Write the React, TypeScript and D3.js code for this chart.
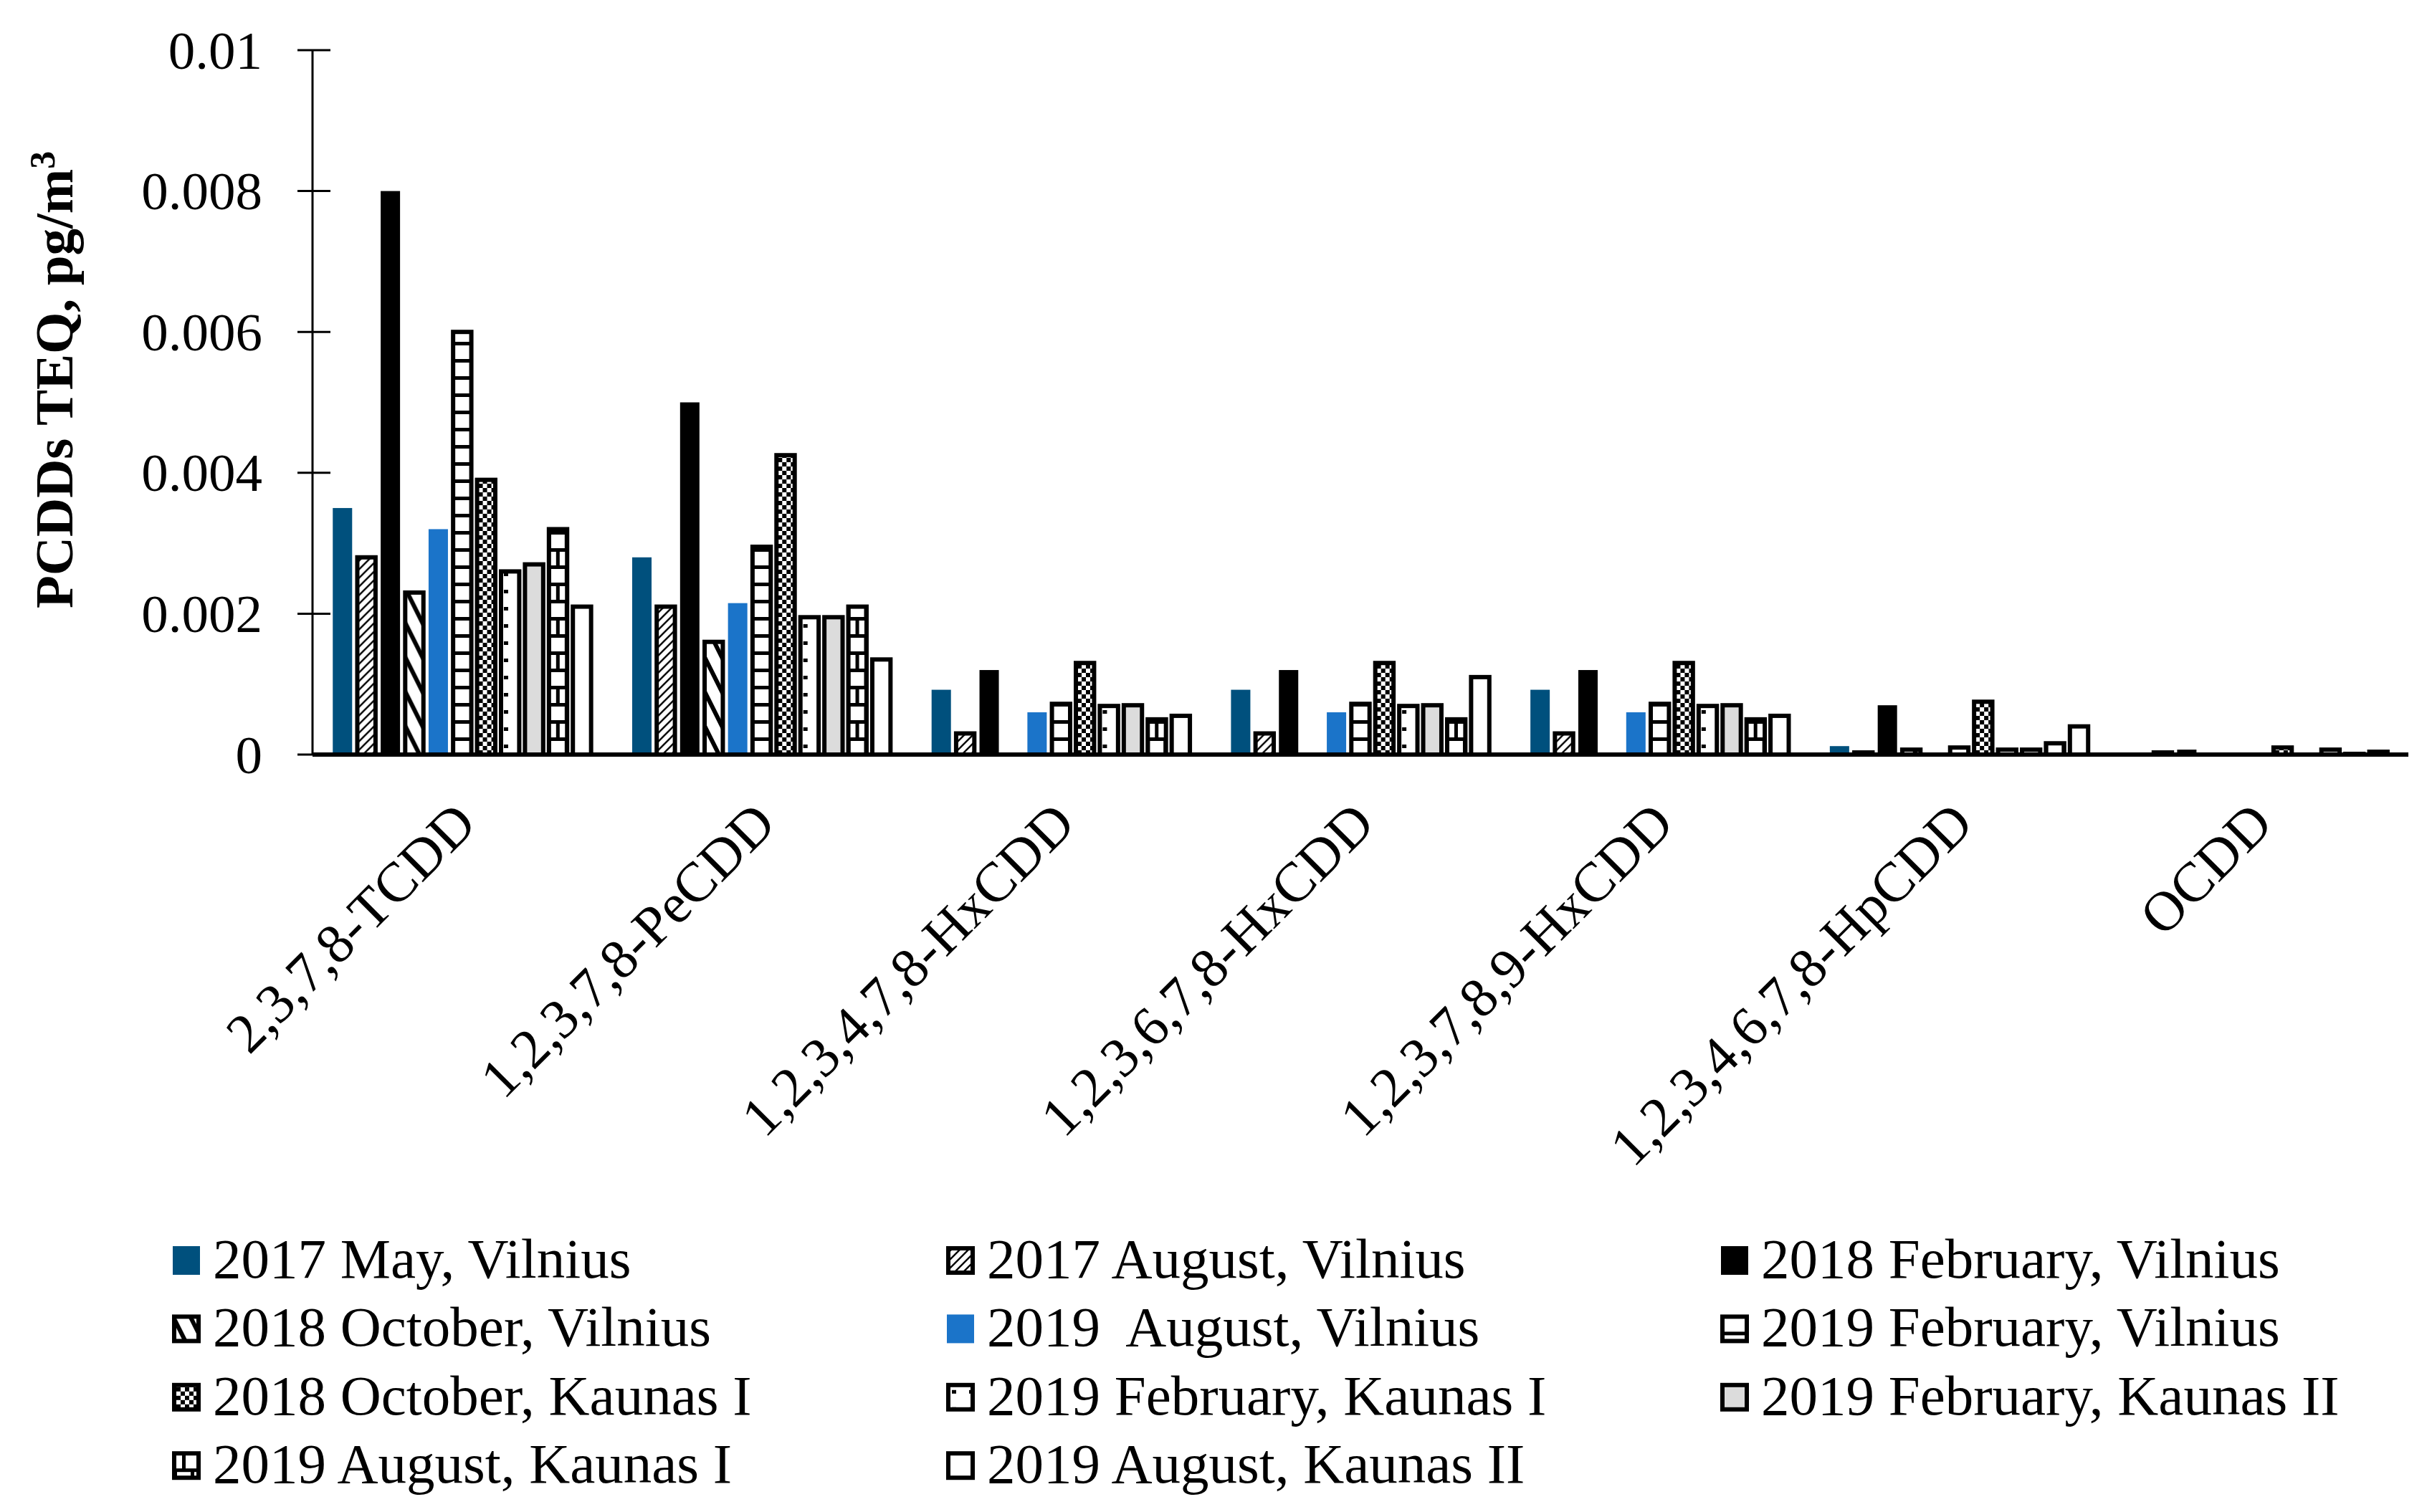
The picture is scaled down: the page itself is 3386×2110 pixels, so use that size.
import React from "react";
import * as d3 from "d3";

// congeners on the x axis
const categories = [
  "2,3,7,8-TCDD",
  "1,2,3,7,8-PeCDD",
  "1,2,3,4,7,8-HxCDD",
  "1,2,3,6,7,8-HxCDD",
  "1,2,3,7,8,9-HxCDD",
  "1,2,3,4,6,7,8-HpCDD",
  "OCDD",
];

const seriesNames = [
  "2017 May, Vilnius",
  "2017 August, Vilnius",
  "2018 February, Vilnius",
  "2018 October, Vilnius",
  "2019  August, Vilnius",
  "2019 February, Vilnius",
  "2018 October, Kaunas I",
  "2019 February, Kaunas I",
  "2019 February, Kaunas II",
  "2019 August, Kaunas I",
  "2019 August, Kaunas II",
];

// PCDDs TEQ, pg/m3
const may2017Vilnius = [0.0035, 0.0028, 0.00092, 0.00092, 0.00092, 0.00012, 0];
const aug2017Vilnius = [0.0028, 0.0021, 0.0003, 0.0003, 0.0003, 0.00003, 0.00003];
const feb2018Vilnius = [0.008, 0.005, 0.0012, 0.0012, 0.0012, 0.0007, 0.00007];
const oct2018Vilnius = [0.0023, 0.0016, 0, 0, 0, 0.00007, 0];
const aug2019Vilnius = [0.0032, 0.00215, 0.0006, 0.0006, 0.0006, 0, 0];
const feb2019Vilnius = [0.006, 0.00295, 0.00072, 0.00072, 0.00072, 0.0001, 0];
const oct2018Kaunas1 = [0.0039, 0.00425, 0.0013, 0.0013, 0.0013, 0.00075, 0.0001];
const feb2019Kaunas1 = [0.0026, 0.00195, 0.00069, 0.00069, 0.00069, 0.00007, 0];
const feb2019Kaunas2 = [0.0027, 0.00195, 0.0007, 0.0007, 0.0007, 0.00007, 0.00007];
const aug2019Kaunas1 = [0.0032, 0.0021, 0.0005, 0.0005, 0.0005, 0.00016, 0.00001];
const aug2019Kaunas2 = [0.0021, 0.00135, 0.00055, 0.0011, 0.00055, 0.0004, 0.00004];

const seriesValues = [
  may2017Vilnius,
  aug2017Vilnius,
  feb2018Vilnius,
  oct2018Vilnius,
  aug2019Vilnius,
  feb2019Vilnius,
  oct2018Kaunas1,
  feb2019Kaunas1,
  feb2019Kaunas2,
  aug2019Kaunas1,
  aug2019Kaunas2,
];

const yTicks = [0, 0.002, 0.004, 0.006, 0.008, 0.01];

// look of each series
const kinds = [
  "solid", "updiag", "solid", "downdiag", "solid", "hlines",
  "checker", "dots", "solid", "brick", "solid",
];
const solidColors: Record<number, string> = {
  0: "#00507D",
  2: "#000000",
  4: "#1B74C9",
  8: "#DCDCDC",
  10: "#FFFFFF",
};
const outlined = [false, true, false, true, false, true, true, true, true, true, true];

const FONT = "'Liberation Serif', 'Times New Roman', serif";
const W = 3386;
const H = 2110;
const margin = {left: 436, right: 3360, top: 70, bottom: 1053};

const tileSize: Record<string, [number, number]> = {
  updiag: [12, 12],
  downdiag: [24, 48],
  hlines: [24, 24],
  checker: [12, 12],
  dots: [24, 24],
  brick: [24, 48],
};

function Tile({kind}: {kind: string}) {
  const [tw, th] = tileSize[kind];
  const bg = <rect width={tw} height={th} fill="#fff" />;
  switch (kind) {
    case "updiag":
      return (
        <>
          {bg}
          <path d="M-3,3L3,-3M0,12L12,0M9,15L15,9" stroke="#000" strokeWidth={2.4} />
        </>
      );
    case "downdiag":
      return (
        <>
          {bg}
          <path d="M-24,-48L48,96M0,-48L72,96M-48,-48L24,96" stroke="#000" strokeWidth={6} />
        </>
      );
    case "hlines":
      return (
        <>
          {bg}
          <rect x={0} y={0} width={24} height={5} fill="#000" />
        </>
      );
    case "checker":
      return (
        <>
          {bg}
          <rect x={0} y={0} width={6} height={6} fill="#000" />
          <rect x={6} y={6} width={6} height={6} fill="#000" />
        </>
      );
    case "dots":
      return (
        <>
          {bg}
          <rect x={8} y={10} width={6} height={5} fill="#000" />
        </>
      );
    case "brick":
      return (
        <>
          {bg}
          <rect x={0} y={0} width={24} height={5} fill="#000" />
          <rect x={0} y={24} width={24} height={5} fill="#000" />
          <rect x={14} y={5} width={5} height={19} fill="#000" />
          <rect x={2} y={29} width={5} height={19} fill="#000" />
        </>
      );
    default:
      return bg;
  }
}

function PatternDef({id, kind, ox, oy}: {id: string; kind: string; ox: number; oy: number}) {
  const [tw, th] = tileSize[kind];
  return (
    <pattern id={id} patternUnits="userSpaceOnUse" x={ox} y={oy} width={tw} height={th}>
      <Tile kind={kind} />
    </pattern>
  );
}

function fillFor(si: number, patId: string) {
  return kinds[si] === "solid" ? solidColors[si] : `url(#${patId})`;
}

export default function App() {
  const x = d3.scaleBand<string>().domain(categories).range([margin.left, margin.right]);
  const inner = d3
    .scaleBand<number>()
    .domain(d3.range(seriesNames.length))
    .range([0, x.bandwidth()])
    .paddingInner(0)
    .paddingOuter(0.75);
  const y = d3.scaleLinear().domain([0, 0.01]).range([margin.bottom, margin.top]);
  const bw = inner.bandwidth();
  const sw = 6; // outline width

  const bars: any[] = [];
  const defs: any[] = [];
  seriesValues.forEach((vals, si) => {
    vals.forEach((v, ci) => {
      if (!v) return;
      const slot = (x(categories[ci]) as number) + (inner(si) as number);
      const id = `p${si}-${ci}`;
      if (kinds[si] !== "solid") {
        defs.push(<PatternDef key={id} id={id} kind={kinds[si]} ox={slot} oy={margin.bottom} />);
      }
      const top = y(v);
      const h = margin.bottom - top;
      if (outlined[si]) {
        bars.push(
          <rect
            key={id}
            x={slot + 4}
            y={top}
            width={bw - 8}
            height={h}
            fill={fillFor(si, id)}
            stroke="#000"
            strokeWidth={sw}
          />
        );
      } else {
        bars.push(
          <rect key={id} x={slot + 3.2} y={top} width={bw - 6.4} height={h} fill={fillFor(si, id)} />
        );
      }
    });
  });

  // legend
  const legCols = 3;
  const legX = (c: number) => 240 + 1080 * c;
  const legY = (r: number) => 1759 + 95.4 * r;
  const mk = 40;
  seriesNames.forEach((_, si) => {
    if (kinds[si] === "solid") return;
    const c = si % legCols;
    const r = Math.floor(si / legCols);
    defs.push(
      <PatternDef key={`lg${si}`} id={`lg${si}`} kind={kinds[si]} ox={legX(c)} oy={legY(r) - mk / 2} />
    );
  });

  return (
    <svg
      width={W}
      height={H}
      style={{position: "absolute", left: 0, top: 0, display: "block", background: "#fff"}}
      fontFamily={FONT}
    >
      <defs>{defs}</defs>
      <rect width={W} height={H} fill="#fff" />

      {bars}

      {/* y axis */}
      <line x1={margin.left} x2={margin.left} y1={margin.top} y2={margin.bottom} stroke="#000" strokeWidth={3} />
      {yTicks.map((t) => (
        <g key={t}>
          <line x1={margin.left - 21} x2={margin.left + 25} y1={y(t)} y2={y(t)} stroke="#000" strokeWidth={3} />
          <text x={366} y={y(t)} dy="0.34em" textAnchor="end" fontSize={75}>
            {t === 0 ? "0" : String(+t.toFixed(3))}
          </text>
        </g>
      ))}

      {/* x axis */}
      <line x1={margin.left} x2={margin.right} y1={margin.bottom} y2={margin.bottom} stroke="#000" strokeWidth={6} />
      {categories.map((c) => {
        const cx = (x(c) as number) + x.bandwidth() / 2 + 23;
        const cy = 1153;
        return (
          <text
            key={c}
            x={cx}
            y={cy}
            textAnchor="end"
            fontSize={78}
            transform={`rotate(-45, ${cx}, ${cy})`}
          >
            {c}
          </text>
        );
      })}

      {/* y title */}
      <text transform="translate(101, 849) rotate(-90)" fontSize={75} fontWeight="bold" textAnchor="start">
        PCDDs TEQ, pg/m
        <tspan fontSize={50} dy={-25}>
          3
        </tspan>
      </text>

      {/* legend */}
      {seriesNames.map((name, si) => {
        const c = si % legCols;
        const r = Math.floor(si / legCols);
        const lx = legX(c);
        const ly = legY(r);
        const fill = kinds[si] === "solid" ? solidColors[si] : `url(#lg${si})`;
        return (
          <g key={name}>
            {outlined[si] ? (
              <rect x={lx + 3} y={ly - mk / 2 + 3} width={mk - 6} height={mk - 6} fill={fill} stroke="#000" strokeWidth={6} />
            ) : (
              <rect x={lx + 1} y={ly - mk / 2} width={mk - 2} height={mk} fill={fill} />
            )}
            <text x={lx + 57} y={ly + 24} fontSize={79} style={{whiteSpace: "pre"}}>
              {name}
            </text>
          </g>
        );
      })}
    </svg>
  );
}
